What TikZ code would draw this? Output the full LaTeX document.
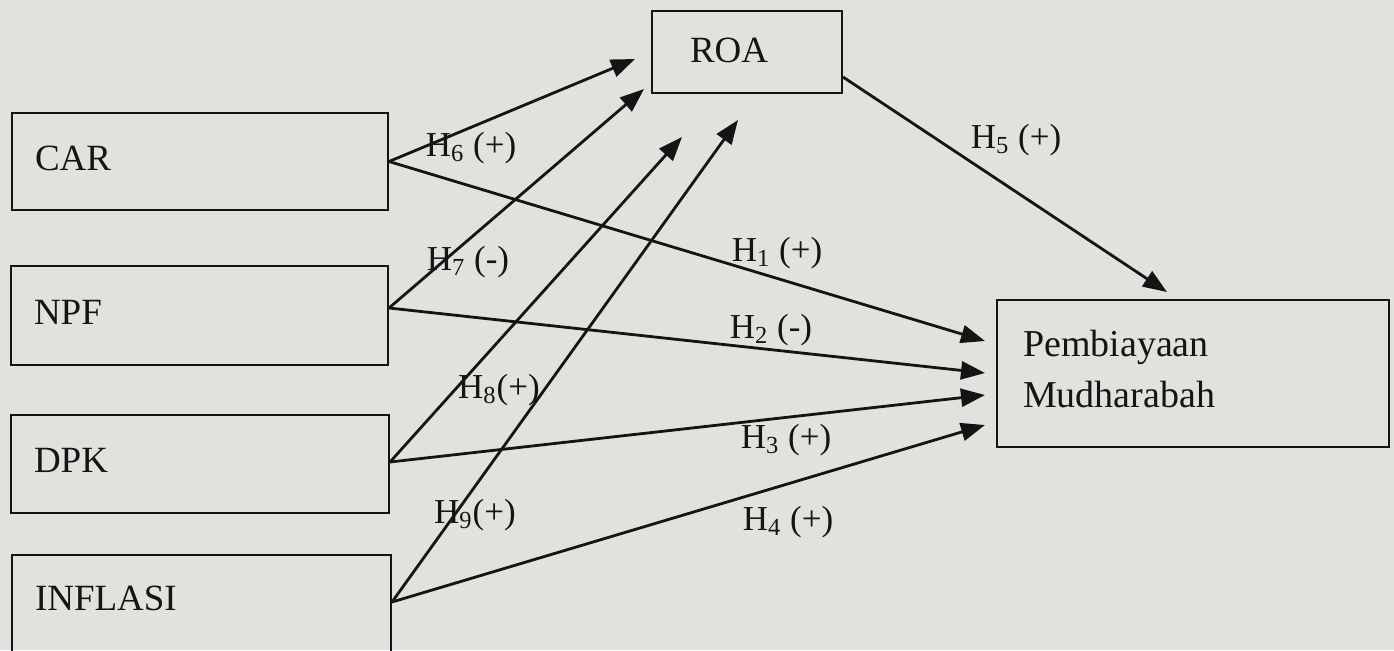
\documentclass[tikz,border=0pt]{standalone}
\usepackage{fontspec}
\setmainfont{Liberation Serif}
\usetikzlibrary{arrows.meta}
\definecolor{paper}{RGB}{225,225,221}
\definecolor{ink}{RGB}{20,20,20}
\begin{document}
\begin{tikzpicture}[x=0.5pt,y=-0.5pt,
  box/.style={draw=ink, line width=1pt, inner ysep=0pt, align=left, text=ink,
    font=\fontsize{18.5}{25.5}\selectfont},
  hyp/.style={text=ink, font=\fontsize{17.5}{20}\selectfont, inner sep=0pt},
  link/.style={draw=ink, line width=1.4pt, -{Triangle[length=12pt,width=9pt]}}]
\fill[paper] (0,0) rectangle (1394,650);
\useasboundingbox (0,0) rectangle (1394,650);

% nodes
\node[box, minimum width=188pt, minimum height=48.5pt, inner xsep=11.5pt, text width=165pt, text depth=3.5pt] (car) at (200,161.5) {CAR};
\node[box, minimum width=188.5pt, minimum height=49.5pt, inner xsep=11.5pt, text width=165.5pt, text depth=3.5pt] (npf) at (199.5,315.5) {NPF};
\node[box, minimum width=189pt, minimum height=49pt, inner xsep=11.5pt, text width=166pt, text depth=3.5pt] (dpk) at (200,464) {DPK};
\node[box, minimum width=189.5pt, minimum height=52.5pt, inner xsep=11.5pt, text width=166.5pt, text depth=9.5pt] (inf) at (201.5,607.5) {INFLASI};
\node[box, minimum width=95pt, minimum height=41pt, inner xsep=19pt, text width=57pt, text depth=1.5pt] (roa) at (747,52) {ROA};
\node[box, font=\fontsize{19}{25.5}\selectfont, minimum width=196pt, minimum height=73.5pt, inner xsep=13pt, text width=170pt, text depth=30.5pt] (pm) at (1193,373.5) {Pembiayaan\\Mudharabah};

% free arrow ends
\coordinate (t6) at (635,59);
\coordinate (t7) at (644,89);
\coordinate (t8) at (682,137);
\coordinate (t9) at (738,120);
\coordinate (t5) at (1167,292);
\coordinate (t1) at (985,341);
\coordinate (t2) at (985,373);
\coordinate (t3) at (985,395);
\coordinate (t4) at (985,425);

% connectors
\draw[link] (car.east) -- (t6);
\draw[link] ([yshift=3.75pt]npf.east) -- (t7);
\draw[link] ([yshift=1pt]dpk.east) -- (t8);
\draw[link] ([yshift=2.75pt]inf.east) -- (t9);
\draw[link] (car.east) -- (t1);
\draw[link] ([yshift=3.75pt]npf.east) -- (t2);
\draw[link] ([yshift=1pt]dpk.east) -- (t3);
\draw[link] ([yshift=2.75pt]inf.east) -- (t4);
\draw[link] ([yshift=-12.5pt]roa.east) -- (t5);

% labels
\node[hyp] (h6) at (471,148) {H\textsubscript{6} (+)};
\node[hyp] (h7) at (468,262) {H\textsubscript{7} (-)};
\node[hyp] (h8) at (499,390) {H\textsubscript{8}(+)};
\node[hyp] (h9) at (475,515) {H\textsubscript{9}(+)};
\node[hyp] (h1) at (777,253) {H\textsubscript{1} (+)};
\node[hyp] (h2) at (771,330) {H\textsubscript{2} (-)};
\node[hyp] (h3) at (786,440) {H\textsubscript{3} (+)};
\node[hyp] (h4) at (788,522) {H\textsubscript{4} (+)};
\node[hyp] (h5) at (1016,140) {H\textsubscript{5} (+)};
\end{tikzpicture}
\end{document}
